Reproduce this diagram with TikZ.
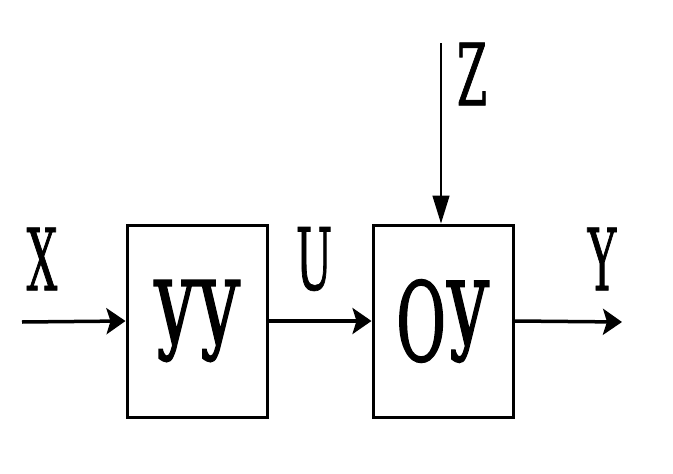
\documentclass[tikz,border=0pt]{standalone}
\usepackage{fontspec}
\newfontfamily\boxfont[FakeStretch=0.55,FakeBold=1.2]{DejaVu Serif}
\newfontfamily\dvs[FakeStretch=0.5,FakeBold=0.8]{DejaVu Serif}
\usetikzlibrary{arrows.meta}
\begin{document}
\begin{tikzpicture}[x=1pt,y=-1pt,
  blk/.style={draw=black,line width=3pt,minimum width=140pt,minimum height=192pt,inner sep=0pt,
    font=\boxfont\fontsize{110}{110}\selectfont},
  lbl/.style={inner sep=0pt,font=\dvs\fontsize{86}{86}\selectfont},
  arr/.style={line width=3.5pt,-{Stealth[length=19pt,width=26pt,inset=4pt]}},
  thin arr/.style={line width=1.5pt,-{Triangle[length=28pt,width=17pt]}}]
\useasboundingbox (0,0) rectangle (673,474);
\node[blk] (uu) at (197,321) {УУ};
\node[blk] (ou) at (443,321) {ОУ};
\coordinate (in) at (22,322);
\coordinate (out) at (622,322);
\coordinate (ztop) at (441,43);
\draw[arr] (in) -- (uu.west);
\draw[arr] (uu.east) -- (ou.west);
\draw[arr] (ou.east) -- (out);
\draw[thin arr] (ztop) -- (ztop |- ou.north);
\node[lbl] (x) at (42,259) {X};
\node[lbl] (u) at (314,259) {U};
\node[lbl] (y) at (602,259) {Y};
\node[lbl] (z) at (472,74) {Z};
\end{tikzpicture}
\end{document}
